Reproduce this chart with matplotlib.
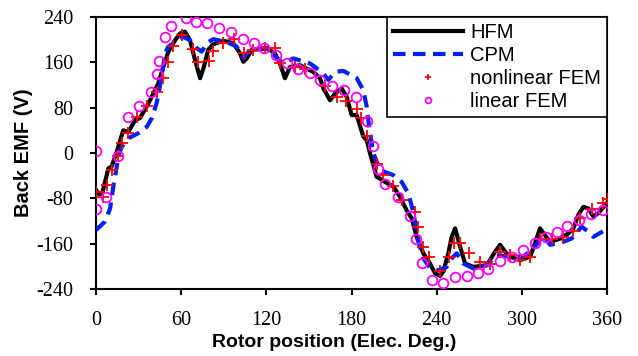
import numpy as np
import matplotlib
matplotlib.use("Agg")
import matplotlib.pyplot as plt

# HFM (solid black)
hfm_x = [0, 2, 4, 8.7, 11, 14.6, 19.2, 22.8, 27.5, 31, 35.7, 39.2, 43.9, 47.4, 51, 55.7, 59.2,
         62.7, 66.2, 69.8, 73.3, 76, 79, 82.6, 89.7, 96.7, 101.4, 103.8, 106.2, 109.7, 120.3,
         126, 129.6, 133.1, 136.7, 143.7, 153.1, 157.8, 160.2, 164.9, 168.4, 173.1, 176.6,
         180.1, 183.7, 188.3, 190.7, 193, 197.7, 200, 203.6, 209.4, 214.1, 218.8, 222.4,
         225.9, 230.6, 235.3, 238.8, 242.4, 244.7, 248.2, 250.6, 253, 256.5, 260, 265.9,
         275.3, 281.2, 284.7, 288.2, 291.7, 298.8, 305.8, 309.3, 312.8, 316.3, 319.9, 326.9,
         332.8, 336.3, 339.8, 343.4, 346.9, 350.4, 354, 358.7, 360]
hfm_y = [-65, -72, -75, -27, -24, 2, 40, 37, 58, 62, 82, 99, 123, 152, 179, 199, 211,
         214, 199, 164, 132, 152, 182, 192, 198, 194, 176, 161, 167, 182, 185,
         176, 158, 132, 152, 155, 143, 132, 114, 93, 105, 114, 99,
         67, 67, 29, 23, 0, -42, -45, -51, -59, -77, -101, -115,
         -148, -177, -195, -212, -217, -209, -177, -148, -133, -165, -195, -201,
         -198, -174, -162, -174, -183, -189, -183, -159, -133, -145, -157, -151,
         -142, -133, -109, -95, -98, -112, -106, -92, -88]

# CPM (dashed blue)
cpm_x = [0, 6.3, 9.9, 12.2, 14.6, 15.7, 18.1, 22.8, 29.8, 35.7, 39.2, 42.7, 46.3, 48.6, 51,
         55.7, 61.5, 66.2, 70.9, 74.5, 78, 82.6, 92, 99.1, 103.8, 108.5, 120.3, 122.6,
         131.9, 139, 150.8, 159, 163.7, 168.4, 174.2, 183.7, 188.3, 190.7, 193, 195.4, 200,
         209.4, 215.3, 220, 223.5, 227, 230.6, 235.3, 241.1, 247, 250.6, 254.1, 258.8,
         265.9, 275.3, 282.3, 291.7, 301.1, 309.3, 315.2, 319.9, 326.9, 335.1, 342.2,
         346.9, 350.4, 358.7, 360]
cpm_y = [-136, -121, -98, -59, -24, -6, 11, 26, 35, 46, 61, 88, 135, 176, 188,
         196, 205, 199, 185, 179, 194, 201, 196, 188, 167, 182, 185, 179,
         158, 167, 158, 143, 129, 143, 145, 132, 111, 82, 35, 0, -30,
         -39, -51, -71, -104, -154, -186, -203, -207, -201, -186, -177, -195,
         -204, -198, -180, -183, -183, -165, -145, -162, -159, -151, -130,
         -139, -148, -136, -134]

# nonlinear FEM (red +)
nl_x = [0, 4.7, 7.5, 11, 15.7, 18.1, 22.8, 29.1, 36.2, 42.7, 47.4, 51, 54.5, 60.4, 68.6,
        72.1, 79.8, 82.6, 89.3, 97.2, 104.3, 110.8, 119.1, 126, 129.6, 140.2, 147.3,
        161.3, 169.6, 176.2, 184.1, 186.5, 190.7, 197.7, 202.4, 209.4, 215.3, 224.8,
        227.1, 230.6, 234.9, 242.4, 248.5, 252.5, 256.5, 263, 270.6, 277.6, 284.7, 291.7,
        298.8, 305.8, 312.8, 321.1, 328.8, 335.9, 341, 349.2, 357.4, 360.9]
nl_y = [-68, -77, -56, -30, -5, 18, 36, 64, 83, 108, 132, 161, 188, 208, 183,
        161, 163, 180, 195, 201, 176, 181, 185, 185, 158, 152, 149,
        118, 99, 91, 77, 61, 30, -20, -39, -59, -83, -104,
        -130, -165, -184, -208, -183, -159, -159, -176, -192, -195, -174, -180,
        -189, -184, -152, -151, -148, -138, -115, -99, -89, -82]

# linear FEM (magenta o)
lin_x = [0, 0, 7, 15.7, 22.8, 30.5, 38.5, 42.7, 44.4, 48.6, 52.6, 63.4, 70.5, 78.4, 86.9,
         95.1, 103.3, 111.3, 118.3, 126.8, 134.8, 142.5, 150.8, 157.8, 166, 174.7, 183.2,
         190.7, 195.4, 198.9, 203.6, 213, 221.2, 225.5, 229.5, 236.5, 244.5, 253, 261.2,
         269.3, 276.4, 284.7, 292.9, 301.1, 309.3, 317.1, 324.6, 332, 340.5, 348.5, 357]
lin_y = [3, -98, -77, -5, 63, 83, 108, 139, 163, 204, 225, 239, 232, 229, 221,
         214, 201, 195, 185, 173, 159, 148, 142, 129, 118, 112, 98,
         57, 12, -29, -54, -77, -111, -152, -194, -224, -229, -219, -217,
         -211, -204, -190, -183, -172, -159, -149, -139, -129, -118, -108, -101]

plt.rcParams['axes.unicode_minus'] = False

fig = plt.figure(figsize=(6.38, 3.56), dpi=100)
ax = fig.add_axes([0.1505, 0.1882, 0.8009, 0.7640])

ax.plot(hfm_x, hfm_y, color='black', lw=3, label='HFM', zorder=2)
ax.plot(cpm_x, cpm_y, color='#0022ee', lw=3, ls=(0, (3, 1.8)), label='CPM', zorder=3)
ax.plot(nl_x, nl_y, ls='none', marker='+', ms=8, mew=1.3, color='red',
        label='nonlinear FEM', zorder=4)
ax.plot(lin_x, lin_y, ls='none', marker='o', ms=7, mew=1.3, mfc='none', mec='#ff00ff',
        label='linear FEM', zorder=5)

ax.set_xlim(0, 360)
ax.set_ylim(-240, 240)
ax.set_xticks(np.arange(0, 361, 60))
ax.set_yticks(np.arange(-240, 241, 80))
for lab in ax.get_xticklabels() + ax.get_yticklabels():
    lab.set_family('Liberation Serif')
    lab.set_fontsize(14.5)
ax.tick_params(direction='out', length=4.5, width=1.5)
ax.tick_params(axis='x', pad=11)
ax.tick_params(axis='y', pad=12)
for s in ax.spines.values():
    s.set_linewidth(1.5)

ax.set_xlabel('Rotor position (Elec. Deg.)', family='Liberation Sans', fontweight='bold',
              fontsize=14)
ax.xaxis.set_label_coords(0.466, -0.165)
ax.set_ylabel('Back EMF (V)', family='Liberation Sans', fontweight='bold',
              fontsize=14.5)
ax.yaxis.set_label_coords(-0.123, 0.5)

leg = ax.legend(loc='upper right', borderaxespad=0, fancybox=False, framealpha=1,
                edgecolor='black', handlelength=3.5, labelspacing=0.2, markerscale=0.6,
                borderpad=0.3, handletextpad=0.35,
                prop={'family': 'Liberation Sans', 'size': 14.5})
leg.get_frame().set_linewidth(1.2)

fig.savefig('out.png', dpi=100)
